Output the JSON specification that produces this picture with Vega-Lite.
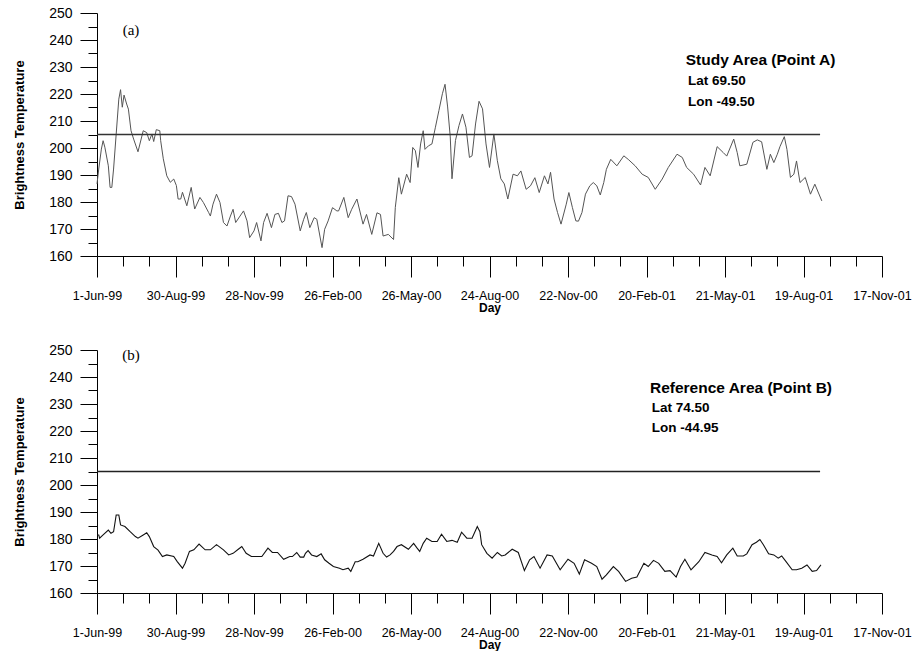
{
  "$schema": "https://vega.github.io/schema/vega-lite/v6.json",
  "background": "white",
  "padding": {"left": 13, "top": 6, "right": 0, "bottom": 0},
  "spacing": 29,
  "config": {
    "view": {"stroke": null},
    "font": "Liberation Sans",
    "axis": {
      "grid": false,
      "domainColor": "#000",
      "tickColor": "#000",
      "labelColor": "#000",
      "titleColor": "#000",
      "labelFont": "Liberation Sans",
      "titleFont": "Liberation Sans",
      "labelFontSize": 14,
      "titleFontSize": 12,
      "titleFontWeight": "bold",
      "domainWidth": 1,
      "tickWidth": 1
    }
  },
  "datasets": {
    "a": [
      {"day":0,"bt":186.7},{"day":2,"bt":192.2},{"day":5,"bt":199.6},{"day":7,"bt":202.7},{"day":9,"bt":200.3},{"day":13,"bt":193.4},{"day":15,"bt":185.4},{"day":17,"bt":185.4},{"day":19,"bt":192.2},{"day":22,"bt":205.2},{"day":25,"bt":218.1},{"day":27,"bt":221.6},{"day":29,"bt":215.1},{"day":31,"bt":219.6},{"day":34,"bt":216.3},{"day":36,"bt":214.4},{"day":39,"bt":206.4},{"day":42,"bt":203.3},{"day":47,"bt":198.6},{"day":53,"bt":206.4},{"day":57,"bt":205.7},{"day":60,"bt":202.7},{"day":63,"bt":205.2},{"day":65,"bt":202.4},{"day":68,"bt":206.8},{"day":72,"bt":206.4},{"day":73,"bt":202.7},{"day":76,"bt":196},{"day":80,"bt":189.7},{"day":84,"bt":187.3},{"day":88,"bt":188.5},{"day":91,"bt":186.1},{"day":93,"bt":181.1},{"day":96,"bt":181.1},{"day":98,"bt":183.6},{"day":103,"bt":178.6},{"day":108,"bt":185.4},{"day":112,"bt":177.4},{"day":118,"bt":181.7},{"day":122,"bt":179.8},{"day":128,"bt":176.1},{"day":130,"bt":174.8},{"day":133,"bt":179.2},{"day":137,"bt":182.9},{"day":141,"bt":179.8},{"day":145,"bt":172.4},{"day":149,"bt":171.1},{"day":153,"bt":174.8},{"day":156,"bt":177.3},{"day":159,"bt":172.4},{"day":164,"bt":174.8},{"day":168,"bt":176.7},{"day":172,"bt":173},{"day":175,"bt":166.8},{"day":180,"bt":169.3},{"day":183,"bt":172.4},{"day":188,"bt":165.6},{"day":191,"bt":172.4},{"day":195,"bt":175.8},{"day":200,"bt":170.5},{"day":204,"bt":175.4},{"day":208,"bt":175.8},{"day":212,"bt":172.4},{"day":215,"bt":173},{"day":219,"bt":182.3},{"day":223,"bt":182},{"day":227,"bt":179.2},{"day":233,"bt":169.3},{"day":237,"bt":173.6},{"day":240,"bt":176.1},{"day":244,"bt":170.5},{"day":249,"bt":174.2},{"day":252,"bt":173.6},{"day":258,"bt":163.1},{"day":261,"bt":169.9},{"day":265,"bt":173},{"day":270,"bt":177.9},{"day":275,"bt":176.7},{"day":277,"bt":176.7},{"day":283,"bt":181.7},{"day":288,"bt":174.2},{"day":292,"bt":177.3},{"day":298,"bt":181.1},{"day":305,"bt":171.8},{"day":309,"bt":175.4},{"day":315,"bt":168},{"day":321,"bt":176},{"day":325,"bt":175.4},{"day":328,"bt":167.4},{"day":334,"bt":168},{"day":340,"bt":166.1},{"day":342,"bt":178},{"day":346,"bt":189},{"day":349,"bt":182.9},{"day":355,"bt":190.3},{"day":359,"bt":187.2},{"day":362,"bt":200.2},{"day":365,"bt":199},{"day":368,"bt":192.8},{"day":371,"bt":201.5},{"day":374,"bt":206.4},{"day":376,"bt":199.5},{"day":380,"bt":200.8},{"day":384,"bt":201.5},{"day":388,"bt":207.7},{"day":392,"bt":213.9},{"day":396,"bt":220.1},{"day":399,"bt":223.6},{"day":402,"bt":215.2},{"day":405,"bt":204.1},{"day":407,"bt":188.6},{"day":411,"bt":202.8},{"day":415,"bt":208.3},{"day":419,"bt":212.6},{"day":423,"bt":207.7},{"day":427,"bt":196.5},{"day":430,"bt":197.1},{"day":434,"bt":208.9},{"day":438,"bt":217.3},{"day":442,"bt":214.5},{"day":446,"bt":201.5},{"day":450,"bt":192.8},{"day":455,"bt":205.2},{"day":459,"bt":195.3},{"day":463,"bt":188.6},{"day":467,"bt":186.7},{"day":471,"bt":181.1},{"day":477,"bt":190.3},{"day":482,"bt":189.7},{"day":486,"bt":191.5},{"day":492,"bt":184.7},{"day":497,"bt":186},{"day":502,"bt":189},{"day":507,"bt":183.5},{"day":513,"bt":189.7},{"day":517,"bt":186.7},{"day":520,"bt":191},{"day":524,"bt":181.1},{"day":528,"bt":176.1},{"day":532,"bt":171.8},{"day":538,"bt":179.2},{"day":541,"bt":183.5},{"day":545,"bt":178},{"day":549,"bt":173},{"day":552,"bt":172.9},{"day":556,"bt":176.1},{"day":560,"bt":182.9},{"day":565,"bt":186},{"day":569,"bt":187.2},{"day":573,"bt":186},{"day":577,"bt":182.6},{"day":581,"bt":187.2},{"day":584,"bt":192.1},{"day":589,"bt":195.8},{"day":596,"bt":193.4},{"day":604,"bt":197.1},{"day":609,"bt":195.8},{"day":617,"bt":193.4},{"day":625,"bt":190.3},{"day":632,"bt":189.1},{"day":640,"bt":184.7},{"day":648,"bt":188.5},{"day":655,"bt":192.8},{"day":665,"bt":197.7},{"day":671,"bt":196.5},{"day":676,"bt":192.8},{"day":684,"bt":190.3},{"day":692,"bt":186.3},{"day":697,"bt":192.8},{"day":703,"bt":189.7},{"day":711,"bt":200.5},{"day":718,"bt":198.3},{"day":722,"bt":197},{"day":730,"bt":203.3},{"day":734,"bt":198.3},{"day":737,"bt":193.4},{"day":745,"bt":194},{"day":752,"bt":202.1},{"day":757,"bt":203},{"day":762,"bt":202.3},{"day":768,"bt":192.1},{"day":772,"bt":197.7},{"day":776,"bt":194.6},{"day":780,"bt":197.7},{"day":783,"bt":200.5},{"day":788,"bt":204.2},{"day":791,"bt":199.5},{"day":795,"bt":189.1},{"day":799,"bt":190.3},{"day":802,"bt":195.2},{"day":806,"bt":187.2},{"day":812,"bt":189.1},{"day":818,"bt":182.9},{"day":823,"bt":186.6},{"day":831,"bt":180.4}
    ],
    "b": [
      {"day":0,"bt":181.5},{"day":2,"bt":181.5},{"day":3,"bt":180.3},{"day":7,"bt":181.5},{"day":13,"bt":183.3},{"day":16,"bt":182.1},{"day":19,"bt":182.7},{"day":22,"bt":188.9},{"day":25,"bt":188.9},{"day":27,"bt":185.2},{"day":32,"bt":184.6},{"day":38,"bt":182.7},{"day":44,"bt":180.9},{"day":47,"bt":180.3},{"day":53,"bt":181.5},{"day":57,"bt":182.3},{"day":60,"bt":180.9},{"day":65,"bt":177.2},{"day":70,"bt":175.9},{"day":75,"bt":173.5},{"day":80,"bt":174.1},{"day":88,"bt":173.5},{"day":92,"bt":171.6},{"day":98,"bt":169.2},{"day":101,"bt":171},{"day":106,"bt":175.4},{"day":111,"bt":176},{"day":117,"bt":178.1},{"day":124,"bt":176},{"day":130,"bt":176},{"day":137,"bt":177.9},{"day":145,"bt":176},{"day":151,"bt":174.1},{"day":156,"bt":174.7},{"day":162,"bt":176.2},{"day":166,"bt":177.2},{"day":171,"bt":174.7},{"day":177,"bt":173.5},{"day":183,"bt":173.5},{"day":189,"bt":173.5},{"day":196,"bt":176.6},{"day":201,"bt":175},{"day":207,"bt":175},{"day":214,"bt":172.5},{"day":221,"bt":173.5},{"day":224,"bt":173.5},{"day":229,"bt":175},{"day":233,"bt":173.3},{"day":237,"bt":173.3},{"day":239,"bt":174.7},{"day":242,"bt":175.7},{"day":246,"bt":174.1},{"day":252,"bt":173.5},{"day":257,"bt":174.5},{"day":261,"bt":172.3},{"day":266,"bt":171},{"day":271,"bt":169.8},{"day":278,"bt":169.2},{"day":282,"bt":168.6},{"day":288,"bt":169.2},{"day":291,"bt":168},{"day":296,"bt":171.6},{"day":299,"bt":171.6},{"day":305,"bt":172.5},{"day":313,"bt":174.1},{"day":317,"bt":173.7},{"day":323,"bt":178.4},{"day":328,"bt":174.7},{"day":332,"bt":173.3},{"day":336,"bt":174.1},{"day":340,"bt":175.4},{"day":344,"bt":177.2},{"day":349,"bt":177.9},{"day":357,"bt":176.2},{"day":363,"bt":178.4},{"day":367,"bt":176.6},{"day":370,"bt":175.4},{"day":374,"bt":178.4},{"day":378,"bt":180.3},{"day":384,"bt":179.1},{"day":390,"bt":179.1},{"day":395,"bt":181.8},{"day":401,"bt":179.1},{"day":407,"bt":179.5},{"day":413,"bt":178.8},{"day":418,"bt":182.5},{"day":424,"bt":180.3},{"day":430,"bt":180.3},{"day":436,"bt":184.6},{"day":439,"bt":182.7},{"day":441,"bt":177.9},{"day":447,"bt":174.7},{"day":453,"bt":172.9},{"day":459,"bt":175},{"day":464,"bt":173.7},{"day":468,"bt":174.1},{"day":476,"bt":176.2},{"day":483,"bt":175},{"day":490,"bt":168.3},{"day":496,"bt":172.3},{"day":501,"bt":173.5},{"day":508,"bt":169.2},{"day":516,"bt":174.1},{"day":522,"bt":173.7},{"day":531,"bt":168.6},{"day":540,"bt":172.5},{"day":547,"bt":171},{"day":553,"bt":167},{"day":559,"bt":172.3},{"day":567,"bt":171},{"day":573,"bt":169.8},{"day":579,"bt":165.1},{"day":584,"bt":166.7},{"day":592,"bt":169.8},{"day":598,"bt":168},{"day":606,"bt":164.3},{"day":613,"bt":165.5},{"day":619,"bt":165.9},{"day":627,"bt":171},{"day":632,"bt":169.8},{"day":638,"bt":172.1},{"day":644,"bt":171},{"day":651,"bt":168},{"day":657,"bt":168.3},{"day":664,"bt":165.9},{"day":669,"bt":169.8},{"day":674,"bt":172.5},{"day":681,"bt":168.6},{"day":690,"bt":171.6},{"day":697,"bt":175},{"day":705,"bt":174.1},{"day":711,"bt":173.5},{"day":716,"bt":171.2},{"day":722,"bt":174.1},{"day":729,"bt":176.6},{"day":734,"bt":173.7},{"day":741,"bt":173.7},{"day":745,"bt":174.5},{"day":751,"bt":177.9},{"day":756,"bt":178.8},{"day":760,"bt":179.8},{"day":764,"bt":177.9},{"day":770,"bt":174.5},{"day":776,"bt":174.1},{"day":781,"bt":172.9},{"day":785,"bt":173.7},{"day":790,"bt":171.6},{"day":797,"bt":168.6},{"day":802,"bt":168.6},{"day":808,"bt":169.2},{"day":814,"bt":170.4},{"day":820,"bt":168},{"day":825,"bt":168.3},{"day":830,"bt":170.4}
    ]
  },
  "vconcat": [
    {
      "width": 785,
      "height": 243,
      "layer": [
        {
          "data": {"name": "a"},
          "mark": {"type": "line", "color": "#555555", "strokeWidth": 1},
          "encoding": {
            "x": {
              "field": "day", "type": "quantitative",
              "scale": {"domain": [0, 900], "nice": false, "zero": false},
              "axis": {
                "title": "Day",
                "labelFontSize": 12.5,
                "values": [0,30,60,90,120,150,180,210,240,270,300,330,360,390,420,450,480,510,540,570,600,630,660,690,720,750,780,810,840,870,900],
                "tickCount": 100,
                "labelExpr": "datum.value % 90 === 0 ? timeFormat(datetime(1999, 5, 1 + datum.value), '%-d-%b-%y') : ''",
                "tickSize": {"condition": {"test": "datum.value % 90 === 0", "value": 21}, "value": 10},
                "labelPadding": 12,
                "labelFlush": false,
                "labelOverlap": false,
                "labelBound": false,
                "titlePadding": 1
              }
            },
            "y": {
              "field": "bt", "type": "quantitative",
              "scale": {"domain": [160, 250], "nice": false, "zero": false},
              "axis": {
                "title": "Brightness Temperature",
                "titleFontSize": 13,
                "values": [160,165,170,175,180,185,190,195,200,205,210,215,220,225,230,235,240,245,250],
                "tickCount": 100,
                "labelExpr": "datum.value % 10 === 0 ? datum.label : ''",
                "tickSize": {"condition": {"test": "datum.value % 10 === 0", "value": 17}, "value": 9},
                "labelPadding": 8,
                "labelOverlap": false,
                "labelFlush": false,
                "labelBound": false,
                "titlePadding": 22
              }
            }
          }
        },
        {
          "data": {"values": [{}]},
          "mark": {"type": "rule", "color": "#333333", "strokeWidth": 1.5},
          "encoding": {"x": {"datum": 0}, "x2": {"datum": 829}, "y": {"datum": 205}}
        },
        {
          "data": {"values": [{}]},
          "mark": {"type": "text", "font": "Liberation Serif", "fontSize": 15, "align": "center", "baseline": "middle", "color": "#000"},
          "encoding": {"x": {"datum": 39}, "y": {"datum": 243.7}, "text": {"value": "(a)"}}
        },
        {
          "data": {"values": [{}]},
          "mark": {"type": "text", "fontSize": 15.5, "fontWeight": "bold", "align": "left", "baseline": "middle", "color": "#000"},
          "encoding": {"x": {"datum": 675}, "y": {"datum": 232.6}, "text": {"value": "Study Area (Point A)"}}
        },
        {
          "data": {"values": [{}]},
          "mark": {"type": "text", "fontSize": 13.5, "fontWeight": "bold", "align": "left", "baseline": "middle", "color": "#000"},
          "encoding": {"x": {"datum": 677.5}, "y": {"datum": 225}, "text": {"value": "Lat 69.50"}}
        },
        {
          "data": {"values": [{}]},
          "mark": {"type": "text", "fontSize": 13.5, "fontWeight": "bold", "align": "left", "baseline": "middle", "color": "#000"},
          "encoding": {"x": {"datum": 677.5}, "y": {"datum": 217}, "text": {"value": "Lon -49.50"}}
        }
      ]
    },
    {
      "width": 785,
      "height": 243,
      "layer": [
        {
          "data": {"name": "b"},
          "mark": {"type": "line", "color": "#111111", "strokeWidth": 1.1},
          "encoding": {
            "x": {
              "field": "day", "type": "quantitative",
              "scale": {"domain": [0, 900], "nice": false, "zero": false},
              "axis": {
                "title": "Day",
                "labelFontSize": 12.5,
                "values": [0,30,60,90,120,150,180,210,240,270,300,330,360,390,420,450,480,510,540,570,600,630,660,690,720,750,780,810,840,870,900],
                "tickCount": 100,
                "labelExpr": "datum.value % 90 === 0 ? timeFormat(datetime(1999, 5, 1 + datum.value), '%-d-%b-%y') : ''",
                "tickSize": {"condition": {"test": "datum.value % 90 === 0", "value": 21}, "value": 10},
                "labelPadding": 12,
                "labelFlush": false,
                "labelOverlap": false,
                "labelBound": false,
                "titlePadding": 1
              }
            },
            "y": {
              "field": "bt", "type": "quantitative",
              "scale": {"domain": [160, 250], "nice": false, "zero": false},
              "axis": {
                "title": "Brightness Temperature",
                "titleFontSize": 13,
                "values": [160,165,170,175,180,185,190,195,200,205,210,215,220,225,230,235,240,245,250],
                "tickCount": 100,
                "labelExpr": "datum.value % 10 === 0 ? datum.label : ''",
                "tickSize": {"condition": {"test": "datum.value % 10 === 0", "value": 17}, "value": 9},
                "labelPadding": 8,
                "labelOverlap": false,
                "labelFlush": false,
                "labelBound": false,
                "titlePadding": 22
              }
            }
          }
        },
        {
          "data": {"values": [{}]},
          "mark": {"type": "rule", "color": "#222222", "strokeWidth": 1.5},
          "encoding": {"x": {"datum": 0}, "x2": {"datum": 829}, "y": {"datum": 205}}
        },
        {
          "data": {"values": [{}]},
          "mark": {"type": "text", "font": "Liberation Serif", "fontSize": 15, "align": "center", "baseline": "middle", "color": "#000"},
          "encoding": {"x": {"datum": 39}, "y": {"datum": 248}, "text": {"value": "(b)"}}
        },
        {
          "data": {"values": [{}]},
          "mark": {"type": "text", "fontSize": 15.5, "fontWeight": "bold", "align": "left", "baseline": "middle", "color": "#000"},
          "encoding": {"x": {"datum": 634}, "y": {"datum": 235.9}, "text": {"value": "Reference Area (Point B)"}}
        },
        {
          "data": {"values": [{}]},
          "mark": {"type": "text", "fontSize": 13.5, "fontWeight": "bold", "align": "left", "baseline": "middle", "color": "#000"},
          "encoding": {"x": {"datum": 636}, "y": {"datum": 228.7}, "text": {"value": "Lat 74.50"}}
        },
        {
          "data": {"values": [{}]},
          "mark": {"type": "text", "fontSize": 13.5, "fontWeight": "bold", "align": "left", "baseline": "middle", "color": "#000"},
          "encoding": {"x": {"datum": 636}, "y": {"datum": 221.1}, "text": {"value": "Lon -44.95"}}
        }
      ]
    }
  ]
}
